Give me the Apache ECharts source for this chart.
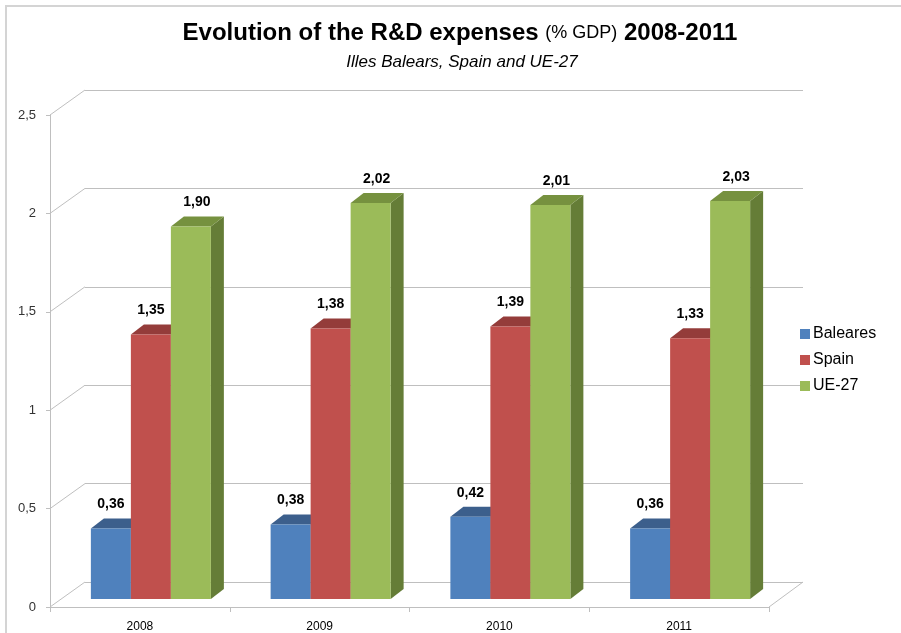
<!DOCTYPE html>
<html>
<head>
<meta charset="utf-8">
<script src="https://cdn.jsdelivr.net/npm/echarts@6/dist/echarts.min.js"></script>
<style>html,body{margin:0;padding:0;background:#fff;}#c{width:901px;height:633px;}</style>
</head>
<body>
<div id="c"></div>
<script>
const categories = ['2008', '2009', '2010', '2011'];
const baleares = [0.36, 0.38, 0.42, 0.36];
const spain = [1.35, 1.38, 1.39, 1.33];
const ue27 = [1.90, 2.02, 2.01, 2.03];
const yTicks = [0, 0.5, 1, 1.5, 2, 2.5];
const seriesNames = ['Baleares', 'Spain', 'UE-27'];

const FONT = "'Liberation Sans', Arial, sans-serif";
const TITLE_FONT = "'Liberation Sans', sans-serif";
const faceColors = [
  { front: '#4f81bd', top: '#3c5f8c', side: '#375882' },
  { front: '#c0504d', top: '#943c3a', side: '#8b3836' },
  { front: '#9bbb59', top: '#76913f', side: '#657d37' }
];
const labelShift = [0, 0, 6];
const BAR_W = 40, DX = 13, DY = 10;

function fmt(v) { return v.toFixed(2).replace('.', ','); }

function barRenderer(s) {
  return function (params, api) {
    const i = api.value(0), v = api.value(1);
    const base = api.coord([i, 0]);
    const top = api.coord([i, v]);
    const x0 = base[0] - 1.5 * BAR_W + s * BAR_W;
    const x1 = x0 + BAR_W;
    const ty = top[1], by = base[1];
    const c = faceColors[s];
    return {
      type: 'group',
      children: [
        { type: 'polygon', shape: { points: [[x1, ty], [x1 + DX, ty - DY], [x1 + DX, by - DY], [x1, by]] }, style: { fill: c.side } },
        { type: 'polygon', shape: { points: [[x0, ty], [x1, ty], [x1 + DX, ty - DY], [x0 + DX, ty - DY]] }, style: { fill: c.top } },
        { type: 'rect', shape: { x: x0, y: ty, width: BAR_W, height: by - ty }, style: { fill: c.front } },
        { type: 'text', x: x0 + BAR_W / 2 + labelShift[s], y: ty - DY - 14,
          style: { text: fmt(v), align: 'center', verticalAlign: 'middle', font: 'bold 14px ' + FONT, fill: '#000' } }
      ]
    };
  };
}

function wallRenderer(params, api) {
  const v = api.value(1);
  const p = api.coord([0, v]);
  const cs = params.coordSys;
  const children = [
    { type: 'line', shape: { x1: cs.x, y1: p[1], x2: cs.x - 35, y2: p[1] + 25 }, style: { stroke: '#bfbfbf', lineWidth: 1 } }
  ];
  if (v === 0) {
    children.push({ type: 'line', shape: { x1: cs.x + cs.width, y1: p[1], x2: cs.x + cs.width - 34, y2: p[1] + 25 }, style: { stroke: '#bfbfbf', lineWidth: 1 } });
  }
  return { type: 'group', children };
}

const chart = echarts.init(document.getElementById('c'), null, { renderer: 'canvas' });
const seriesData = [baleares, spain, ue27];

chart.setOption({
  animation: false,
  backgroundColor: '#fff',
  color: faceColors.map(c => c.front),
  graphic: [
    { type: 'polyline', shape: { points: [[6, 700], [6, 6], [1000, 6]] }, style: { stroke: '#d4d4d4', lineWidth: 2, fill: 'none' }, z: -10 },
    { type: 'text', x: 460, y: 33, style: {
      text: '{a|Evolution of the R&D expenses }{b|(% GDP)}{a| 2008-2011}',
      align: 'center', verticalAlign: 'middle',
      rich: {
        a: { font: 'bold 24px ' + TITLE_FONT, fill: '#000' },
        b: { font: '18px ' + TITLE_FONT, fill: '#000' }
      }
    } },
    { type: 'text', x: 462, y: 62, style: {
      text: 'Illes Balears, Spain and UE-27', align: 'center', verticalAlign: 'middle',
      font: 'italic 17px ' + TITLE_FONT, fill: '#000'
    } }
  ],
  legend: {
    orient: 'vertical', left: 795, top: 321, itemWidth: 10, itemHeight: 10, itemGap: 10,
    icon: 'rect', data: seriesNames,
    textStyle: { fontSize: 16, fontFamily: FONT, color: '#000', padding: [0, 0, 0, -2] }
  },
  grid: [
    { left: 50, top: 115, width: 719, height: 492 },
    { left: 61, top: 109, width: 719, height: 490 },
    { left: 85, top: 90, width: 718, height: 492 }
  ],
  xAxis: [
    { type: 'category', gridIndex: 0, data: categories,
      axisLine: { show: true, lineStyle: { color: '#bfbfbf', width: 1 } },
      axisTick: { show: true, length: 5, interval: 0, lineStyle: { color: '#bfbfbf' } },
      axisLabel: { fontSize: 12, fontFamily: FONT, color: '#000', margin: 14 } },
    { type: 'category', gridIndex: 1, data: categories, show: false },
    { type: 'category', gridIndex: 2, data: categories, show: false }
  ],
  yAxis: [
    { type: 'value', gridIndex: 0, min: 0, max: 2.5, interval: 0.5,
      axisLine: { show: true, lineStyle: { color: '#bfbfbf', width: 1 } },
      axisTick: { show: true, length: 4, lineStyle: { color: '#bfbfbf' } },
      splitLine: { show: false },
      axisLabel: { fontSize: 13, fontFamily: FONT, color: '#333', margin: 14, formatter: v => String(v).replace('.', ',') } },
    { type: 'value', gridIndex: 1, min: 0, max: 2.5, interval: 0.5, show: false, splitLine: { show: false } },
    { type: 'value', gridIndex: 2, min: 0, max: 2.5, interval: 0.5,
      axisLine: { show: false }, axisTick: { show: false }, axisLabel: { show: false },
      splitLine: { show: true, lineStyle: { color: '#bfbfbf', width: 1 } } }
  ],
  series: [
    { type: 'custom', name: 'walls', xAxisIndex: 2, yAxisIndex: 2, silent: true, z: 1,
      data: yTicks.map(v => [0, v]), renderItem: wallRenderer, legendHoverLink: false }
  ].concat(seriesNames.map((name, s) => ({
    type: 'custom', name: name, xAxisIndex: 1, yAxisIndex: 1, z: 5 + s,
    itemStyle: { color: faceColors[s].front },
    data: seriesData[s].map((v, i) => [i, v]),
    renderItem: barRenderer(s)
  })))
});
</script>
</body>
</html>
